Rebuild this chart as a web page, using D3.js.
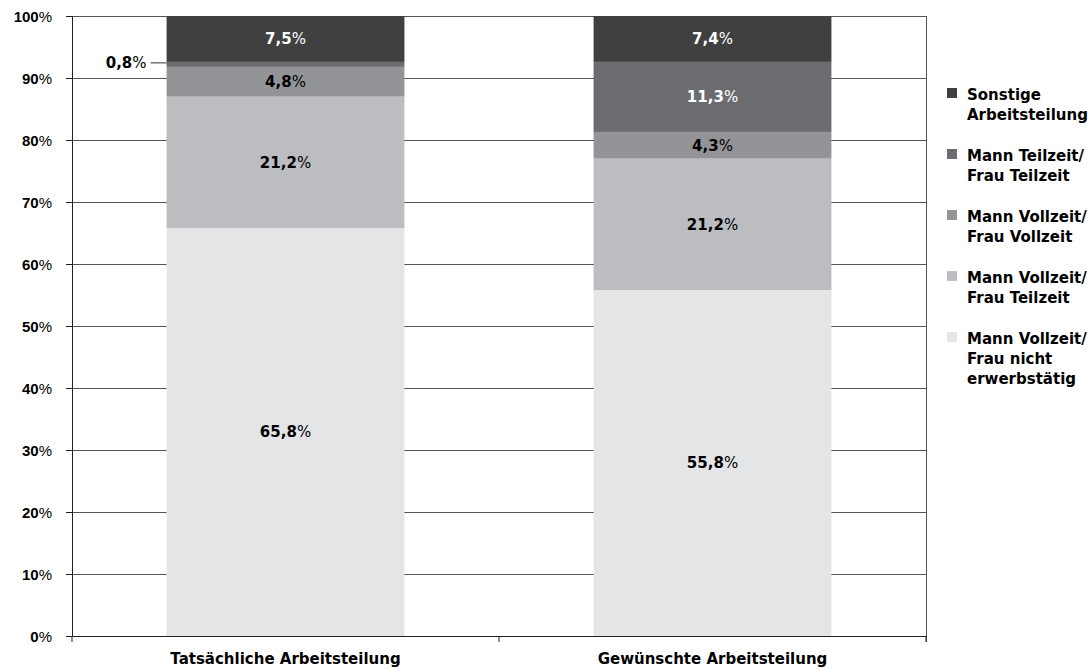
<!DOCTYPE html>
<html>
<head>
<meta charset="utf-8">
<script src="https://cdn.jsdelivr.net/npm/d3@7"></script>
<style>
  body { margin: 0; background: #fff; }
  svg { font-family: "DejaVu Sans", sans-serif; font-weight: 700; }
</style>
</head>
<body>
<svg id="chart"></svg>
<script>
// data
var categories = ["Tatsächliche Arbeitsteilung", "Gewünschte Arbeitsteilung"];
var seriesNames = [
  ["Mann Vollzeit/", "Frau nicht", "erwerbstätig"],
  ["Mann Vollzeit/", "Frau Teilzeit"],
  ["Mann Vollzeit/", "Frau Vollzeit"],
  ["Mann Teilzeit/", "Frau Teilzeit"],
  ["Sonstige", "Arbeitsteilung"]
];
var seriesKeys = ["vznicht", "vztz", "vzvz", "tztz", "sonst"];
var vznicht = [65.8, 55.8];
var vztz = [21.2, 21.2];
var vzvz = [4.8, 4.3];
var tztz = [0.8, 11.3];
var sonst = [7.5, 7.4];
var yTicks = [0, 10, 20, 30, 40, 50, 60, 70, 80, 90, 100];

var colorList = ["#e4e5e7", "#bcbdc1", "#939497", "#6b6c70", "#404040"];
var textColors = ["#000", "#000", "#000", "#fff", "#fff"];

var width = 1092, height = 669;
var margin = {left: 72, right: 166, top: 16, bottom: 33};
var fs = 15;

var svg = d3.select("#chart").attr("width", width).attr("height", height);

var x = d3.scaleBand().domain(categories)
    .range([margin.left, width - margin.right])
    .paddingInner(0).paddingOuter(0);
var y = d3.scaleLinear().domain([0, 100]).range([height - margin.bottom, margin.top]);

var rows = categories.map(function(c, i) {
  var o = {cat: c};
  o.vznicht = vznicht[i]; o.vztz = vztz[i]; o.vzvz = vzvz[i]; o.tztz = tztz[i]; o.sonst = sonst[i];
  return o;
});
var stacked = d3.stack().keys(seriesKeys)(rows);

// gridlines
svg.append("g").selectAll("line")
  .data(yTicks.slice(1))
  .enter().append("line")
    .attr("x1", margin.left - 6).attr("x2", width - margin.right)
    .attr("y1", d => y(d)).attr("y2", d => y(d))
    .attr("stroke", "#555").attr("stroke-width", 1).attr("shape-rendering", "crispEdges");

// right border
svg.append("line")
  .attr("x1", width - margin.right).attr("x2", width - margin.right)
  .attr("y1", y(100)).attr("y2", y(0) + 6)
  .attr("stroke", "#555").attr("shape-rendering", "crispEdges");

// bars
var barW = x.bandwidth() * 0.557;
var groups = svg.append("g").selectAll("g")
  .data(stacked)
  .enter().append("g")
    .attr("fill", (d, i) => colorList[i]);

groups.selectAll("rect")
  .data(d => d)
  .enter().append("rect")
    .attr("x", d => x(d.data.cat) + (x.bandwidth() - barW) / 2)
    .attr("width", barW)
    .attr("y", d => y(Math.min(d[1], 100)))
    .attr("height", d => y(d[0]) - y(Math.min(d[1], 100)));

// value labels
function pct(v) { return String(v).replace(".", ","); }
stacked.forEach(function(s, si) {
  s.forEach(function(d, ci) {
    var v = d[1] - d[0];
    var cx = x(d.data.cat) + x.bandwidth() / 2;
    var cy = y((d[0] + Math.min(d[1], 100)) / 2);
    var t;
    if (v < 2) {
      // small segment: label to the left with leader line
      var bx = x(d.data.cat) + (x.bandwidth() - barW) / 2;
      var ly = y(d[1]) + 1;
      svg.append("line")
        .attr("x1", bx - 16).attr("x2", bx).attr("y1", ly).attr("y2", ly)
        .attr("stroke", "#333");
      t = svg.append("text").attr("x", bx - 20).attr("y", ly).attr("text-anchor", "end");
    } else {
      t = svg.append("text").attr("x", cx).attr("y", cy).attr("text-anchor", "middle")
        .attr("fill", textColors[si]);
    }
    t.attr("dy", "0.35em").attr("font-size", fs);
    t.append("tspan").text(pct(rows[ci][s.key]));
    t.append("tspan").attr("font-weight", 400).text("%");
  });
});

// y axis
var yAxis = svg.append("g")
  .attr("transform", "translate(" + margin.left + ",0)")
  .call(d3.axisLeft(y).tickValues(yTicks).tickSize(6).tickFormat(""));
yAxis.select(".domain").attr("stroke", "#222");
yAxis.selectAll(".tick line").attr("stroke", "#222");
yAxis.selectAll(".tick").append("text")
  .attr("x", -20).attr("dy", "0.35em").attr("fill", "#000")
  .attr("text-anchor", "end").attr("font-size", fs)
  .each(function(d) {
    d3.select(this).append("tspan").text(d);
    d3.select(this).append("tspan").attr("font-weight", 400).text("%");
  });

// x axis
var xAxis = svg.append("g")
  .attr("transform", "translate(0," + y(0) + ")")
  .call(d3.axisBottom(x).tickSize(0).tickFormat(""));
xAxis.select(".domain").attr("stroke", "#222");
xAxis.selectAll(".tick").remove();
xAxis.selectAll("line.sep")
  .data([x.range()[0], x(categories[1]), x.range()[1]])
  .enter().append("line")
    .attr("x1", d => d).attr("x2", d => d).attr("y1", 0).attr("y2", 6)
    .attr("stroke", "#222");
svg.append("g").selectAll("text")
  .data(categories)
  .enter().append("text")
    .attr("x", d => x(d) + x.bandwidth() / 2)
    .attr("y", height - 5)
    .attr("text-anchor", "middle").attr("font-size", fs).attr("fill", "#000")
    .text(d => d);

// legend
var legendOrder = seriesNames.map((n, i) => i).reverse();
var leg = svg.append("g").selectAll("g")
  .data(legendOrder)
  .enter().append("g")
    .attr("transform", (d, i) => "translate(947," + (88 + i * 61) + ")");
leg.append("rect").attr("width", 10).attr("height", 10)
  .attr("fill", d => colorList[d]);
leg.append("text")
  .attr("x", 20).attr("y", 12).attr("font-size", fs).attr("fill", "#000")
  .selectAll("tspan")
  .data(d => seriesNames[d])
  .enter().append("tspan")
    .attr("x", 20).attr("dy", (d, i) => i ? 20 : 0)
    .text(d => d);
</script>
</body>
</html>
